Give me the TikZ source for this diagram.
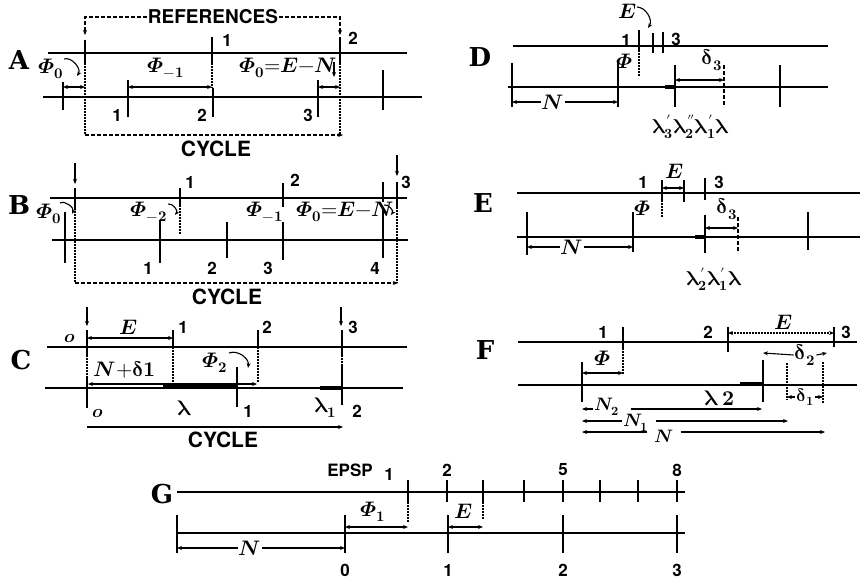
\documentclass[tikz,border=0pt]{standalone}
\usepackage{fontspec}
\usepackage{unicode-math}
\setsansfont{TeX Gyre Heros}
\setmathfont{Latin Modern Math}
\newfontfamily\panelfont{DejaVu Serif}
\usetikzlibrary{arrows.meta}
% bold symbols for the labels
\newcommand{\PhiB}{\symbfit{\Phi}}
\newcommand{\EB}{\symbfit{E}}
\newcommand{\NB}{\symbfit{N}}
\newcommand{\lamB}{\symbfup{\lambda}}
\newcommand{\delB}{\symbfup{\delta}}
\newcommand{\sB}[1]{\symbf{#1}}

\begin{document}
\begin{tikzpicture}[
    x=1pt, y=-1pt,
    >={Stealth[length=5pt,width=4pt]},
    % line styles
    axis_line/.style={line width=1.5pt},
    heavy_line/.style={line width=2.6pt},
    tick_line/.style={line width=1.8pt},
    dot_line/.style={line width=1.3pt, dash pattern=on 1.5pt off 1.5pt},
    dash_line/.style={line width=1.2pt, dash pattern=on 4pt off 2pt},
    dim_arrow/.style={<->, line width=1.1pt},
    hook_arrow/.style={->, line width=1.1pt},
    % text styles
    num_label/.style={font=\sffamily\bfseries\fontsize{17}{18}\selectfont, inner sep=1pt},
    word_label/.style={font=\sffamily\bfseries\fontsize{19}{20}\selectfont, inner sep=1pt},
    cycle_label/.style={font=\sffamily\bfseries\fontsize{21}{22}\selectfont, inner sep=1pt},
    panel_label/.style={font=\panelfont\bfseries\fontsize{26}{26}\selectfont, inner sep=0pt},
    math_label/.style={font=\fontsize{21}{23}\selectfont, inner sep=1pt},
    small_math/.style={font=\fontsize{18}{20}\selectfont, inner sep=1pt},
    lam_label/.style={font=\fontsize{20}{22}\selectfont, inner sep=1pt}
]
    \useasboundingbox[fill=white] (0,0) rectangle (860,582);

    % --- A ---
    \node[panel_label] (labA) at (19,60) {A};
    \draw[heavy_line] (48,53) -- (407,53);
    \draw[axis_line] (43,97) -- (422,97);
    \node[word_label] (refs) at (213,17) {REFERENCES};
    \coordinate (refL) at (85,35);
    \coordinate (refR) at (340,35);
    \draw[dash_line, ->] (refs.west) -| (refL);
    \draw[dash_line, ->] (refs.east) -| (refR);
    \foreach \x/\ya/\yb in {85/40/63, 212/37/63, 340/37/63, 63/82/110, 128/80/117, 213/88/117, 318/80/117, 383/70/110}
        \draw[tick_line] (\x,\ya) -- (\x,\yb);
    \draw[dot_line] (85,63) -- (85,135);
    \draw[dot_line] (340,63) -- (340,135);
    \draw[dot_line] (212,63) -- (212,88);
    \node[num_label] (aT1) at (227,40) {1};
    \node[num_label] (aT2) at (353,38) {2};
    \node[num_label] (aB1) at (117,115) {1};
    \node[num_label] (aB2) at (202,115) {2};
    \node[num_label] (aB3) at (308,115) {3};
    \draw[dim_arrow] (63,87) -- (85,87);
    \draw[dim_arrow] (128,87) -- (212,87);
    \draw[dim_arrow] (318,87) -- (340,87);
    \node[math_label] (aPhi0) at (51,69) {$\PhiB_{\sB{0}}$};
    \draw[hook_arrow] (64,59) to[bend left=70] (77,76);
    \node[math_label] (aPhi1) at (166,68) {$\PhiB_{-\sB{1}}$};
    \node[math_label] (aPhiE) at (288,68) {$\PhiB_{\sB{0}}{=}\EB{-}\NB$};
    \draw[hook_arrow] (334,62) -- (334,77);
    \coordinate (aC0) at (85,135);
    \coordinate (aC1) at (343,135);
    \draw[dash_line, ->] (aC0) -- (aC1);
    \node[cycle_label] (aCyc) at (216,149) {CYCLE};

    % --- B ---
    \node[panel_label] (labB) at (19,205) {B};
    \draw[heavy_line] (50,198) -- (407,198);
    \draw[axis_line] (52,240) -- (408,240);
    \draw[hook_arrow] (75,163) -- (75,184);
    \draw[hook_arrow] (397,155) -- (397,176);
    \foreach \x/\ya/\yb in {75/188/208, 180/188/205, 283/183/207, 383/182/202, 397/182/207, 65/212/263, 160/220/263, 227/222/258, 283/222/260, 383/207/258}
        \draw[tick_line] (\x,\ya) -- (\x,\yb);
    \draw[dot_line] (75,208) -- (75,283);
    \draw[dot_line] (180,205) -- (180,235);
    \draw[dot_line] (397,207) -- (397,283);
    \node[num_label] (bT1) at (190,182) {1};
    \node[num_label] (bT2) at (295,180) {2};
    \node[num_label] (bT3) at (406,182) {3};
    \node[num_label] (bB1) at (148,268) {1};
    \node[num_label] (bB2) at (212,268) {2};
    \node[num_label] (bB3) at (268,268) {3};
    \node[num_label] (bB4) at (375,268) {4};
    \node[math_label] (bPhi0) at (49,214) {$\PhiB_{\sB{0}}$};
    \draw[hook_arrow] (60,203) to[bend left=70] (72,214);
    \node[math_label] (bPhi2) at (149,212) {$\PhiB_{-\sB{2}}$};
    \draw[hook_arrow] (168,204) to[bend left=70] (175,215);
    \node[math_label] (bPhi1) at (265,212) {$\PhiB_{-\sB{1}}$};
    \node[math_label] (bPhiE) at (345,212) {$\PhiB_{\sB{0}}{=}\EB{-}\NB$};
    \draw[hook_arrow] (384,205) to[bend left=70] (391,215);
    \coordinate (bC0) at (75,283);
    \coordinate (bC1) at (398,283);
    \draw[dash_line, ->] (bC0) -- (bC1);
    \node[cycle_label] (bCyc) at (227,297) {CYCLE};

    % --- C ---
    \node[panel_label] (labC) at (21,360) {C};
    \draw[axis_line] (47,347) -- (407,347);
    \draw[heavy_line] (45,388) -- (403,388);
    \draw[hook_arrow] (87,307) -- (87,326);
    \draw[hook_arrow] (341,307) -- (341,326);
    \foreach \x/\ya/\yb in {87/330/355, 173/330/347, 258/330/347, 342/330/355, 87/378/408, 237/367/407, 342/365/405}
        \draw[tick_line] (\x,\ya) -- (\x,\yb);
    \draw[dot_line] (87,355) -- (87,378);
    \draw[dot_line] (173,347) -- (173,383);
    \draw[dot_line] (258,347) -- (258,383);
    \draw[dot_line] (342,355) -- (342,365);
    \node[small_math] (cO1) at (70,338) {$\symbfit{o}$};
    \node[small_math] (cO2) at (98,413) {$\symbfit{o}$};
    \node[num_label] (cT1) at (183,327) {1};
    \node[num_label] (cT2) at (267,327) {2};
    \node[num_label] (cT3) at (353,327) {3};
    \node[num_label] (cB1) at (248,411) {1};
    \node[num_label] (cB2) at (357,411) {2};
    \node[math_label] (cE) at (128,327) {$\EB$};
    \draw[dim_arrow] (87,338) -- (173,338);
    \node[math_label] (cNd) at (125,370) {$\NB{+}\delB\sB{1}$};
    \draw[<->, line width=1.5pt] (88,384) -- (257,384);
    \draw[line width=3.2pt] (163,387) -- (237,387);
    \draw[line width=3.2pt] (320,388) -- (342,388);
    \node[math_label] (cPhi2) at (215,363) {$\PhiB_{\sB{2}}$};
    \draw[hook_arrow] (229,353) to[bend left=60] (248,368);
    \node[math_label] (cLam) at (185,408) {$\lamB$};
    \node[math_label] (cLam1) at (325,408) {$\lamB_{\sB{1}}$};
    \coordinate (cC0) at (87,427);
    \coordinate (cC1) at (343,427);
    \draw[line width=1.3pt, ->] (cC0) -- (cC1);
    \node[cycle_label] (cCyc) at (223,440) {CYCLE};

    % --- D ---
    \node[panel_label] (labD) at (480,57) {D};
    \draw[axis_line] (513,46) -- (828,46);
    \draw[axis_line] (508,87) -- (828,87);
    \foreach \x/\ya/\yb in {639/30/50, 653/33/53, 663/32/53, 512/63/107, 618/63/107, 675/65/107, 780/65/107}
        \draw[tick_line] (\x,\ya) -- (\x,\yb);
    \draw[tick_line, dash pattern=on 4pt off 2pt] (724,65) -- (724,107);
    \draw[dot_line] (639,50) -- (639,77);
    \node[math_label] (dE) at (627,11) {$\EB$};
    \draw[hook_arrow] (637,7) to[bend left=60] (648,28);
    \node[num_label] (dT1) at (626,40) {1};
    \node[num_label] (dT3) at (676,39) {3};
    \node[math_label] (dPhi) at (625,61) {$\PhiB$};
    \node[math_label, fill=white] (dN) at (553,102) {$\NB$};
    \draw[->, line width=1.1pt] (dN.west) -- (512,102);
    \draw[->, line width=1.1pt] (dN.east) -- (618,102);
    \node[math_label] (dDel) at (712,60) {$\delB_{\sB{3}}$};
    \draw[dim_arrow] (675,80) -- (724,80);
    \draw[line width=3.2pt] (665,87) -- (675,87);
    \node[lam_label] (dLam) at (691,127) {$\lamB_{\sB{3}}'\lamB_{\sB{2}}''\lamB_{\sB{1}}'\lamB$};

    % --- E ---
    \node[panel_label] (labE) at (483,203) {E};
    \draw[axis_line] (517,193) -- (860,193);
    \draw[axis_line] (517,237) -- (860,237);
    \foreach \x/\ya/\yb in {662/180/200, 684/180/202, 705/178/200, 527/212/255, 633/212/252, 705/215/253, 808/212/250}
        \draw[tick_line] (\x,\ya) -- (\x,\yb);
    \draw[tick_line, dash pattern=on 4pt off 2pt] (738,217) -- (738,253);
    \draw[dot_line] (662,200) -- (662,218);
    \node[num_label] (eT1) at (643,182) {1};
    \node[num_label] (eT3) at (719,182) {3};
    \node[math_label] (eE) at (674,171) {$\EB$};
    \draw[dim_arrow] (662,188) -- (684,188);
    \node[math_label] (ePhi) at (643,208) {$\PhiB$};
    \node[math_label, fill=white] (eN) at (572,247) {$\NB$};
    \draw[->, line width=1.1pt] (eN.west) -- (527,247);
    \draw[->, line width=1.1pt] (eN.east) -- (633,247);
    \node[math_label] (eDel) at (727,209) {$\delB_{\sB{3}}$};
    \draw[dim_arrow] (705,228) -- (738,228);
    \draw[line width=3.2pt] (695,237) -- (705,237);
    \node[lam_label] (eLam) at (714,279) {$\lamB_{\sB{2}}'\lamB_{\sB{1}}'\lamB$};

    % --- F ---
    \node[panel_label] (labF) at (485,350) {F};
    \draw[axis_line] (518,342) -- (857,342);
    \draw[axis_line] (518,385) -- (857,385);
    \foreach \x/\ya/\yb in {623/327/348, 728/327/352, 834/327/347, 582/362/402, 763/360/402}
        \draw[tick_line] (\x,\ya) -- (\x,\yb);
    \draw[dot_line] (623,348) -- (623,375);
    \draw[dot_line] (787,363) -- (787,400);
    \draw[dot_line] (823,362) -- (823,403);
    \node[num_label] (fT1) at (603,332) {1};
    \node[num_label] (fT2) at (708,332) {2};
    \node[num_label] (fT3) at (846,332) {3};
    \node[math_label] (fE) at (783,322) {$\EB$};
    \draw[dim_arrow, dash pattern=on 2pt off 1pt] (728,333) -- (834,333);
    \node[math_label] (fPhi) at (603,358) {$\PhiB$};
    \draw[dim_arrow] (582,373) -- (623,373);
    \node[math_label, fill=white] (fDel2) at (805,355) {$\delB_{\sB{2}}$};
    \draw[->, line width=1.1pt] (fDel2.west) -- (763,353);
    \draw[->, line width=1.1pt] (fDel2.east) -- (827,353);
    \node[small_math, fill=white] (fDel1) at (805,397) {$\delB_{\sB{1}}$};
    \draw[->, line width=1.1pt] (fDel1.west) -- (787,397);
    \draw[->, line width=1.1pt] (fDel1.east) -- (823,397);
    \draw[line width=3.2pt] (740,384) -- (763,384);
    \node[math_label] (fLam) at (720,398) {$\lamB\,\sB{2}$};
    \node[small_math] (fN2) at (607,407) {$\NB_{\sB{2}}$};
    \draw[->, line width=1.1pt] (fN2.west) ++(0,2) -- (582,409);
    \draw[->, line width=1.1pt] (fN2.east) ++(10,2) -- (762,409);
    \node[small_math] (fN1) at (636,423) {$\NB_{\sB{1}}$};
    \draw[->, line width=1.1pt] (fN1.west) ++(0,-2) -- (582,421);
    \draw[->, line width=1.1pt] (fN1.east) ++(6,-2) -- (788,421);
    \node[small_math] (fN) at (664,436) {$\NB$};
    \draw[->, line width=1.1pt] (fN.west) ++(-6,-4) -- (582,432);
    \draw[->, line width=1.1pt] (fN.east) ++(6,-4) -- (825,432);

    % --- G ---
    \node[panel_label] (labG) at (162,494) {G};
    \draw[axis_line] (177,492) -- (685,492);
    \draw[axis_line] (177,533) -- (685,533);
    \foreach \x in {408,447,483,524,563,600,638,677}
        \draw[tick_line] (\x,480) -- (\x,502);
    \foreach \x in {177,345,448,563,677}
        \draw[tick_line] (\x,515) -- (\x,553);
    \draw[dot_line] (408,502) -- (408,522);
    \draw[dot_line] (483,502) -- (483,520);
    \node[num_label] (gEpsp) at (350,470) {EPSP};
    \node[num_label] (gT1) at (389,474) {1};
    \node[num_label] (gT2) at (447,470) {2};
    \node[num_label] (gT5) at (563,470) {5};
    \node[num_label] (gT8) at (677,470) {8};
    \node[num_label] (gB0) at (345,570) {0};
    \node[num_label] (gB1) at (448,570) {1};
    \node[num_label] (gB2) at (563,570) {2};
    \node[num_label] (gB3) at (677,570) {3};
    \node[math_label, fill=white] (gN) at (250,548) {$\NB$};
    \draw[->, line width=1.1pt] (gN.west) -- (177,548);
    \draw[->, line width=1.1pt] (gN.east) -- (345,548);
    \node[math_label] (gPhi1) at (373,512) {$\PhiB_{\sB{1}}$};
    \draw[dim_arrow] (345,527) -- (408,527);
    \node[math_label] (gE) at (463,511) {$\EB$};
    \draw[dim_arrow] (448,527) -- (483,527);

\end{tikzpicture}
\end{document}
